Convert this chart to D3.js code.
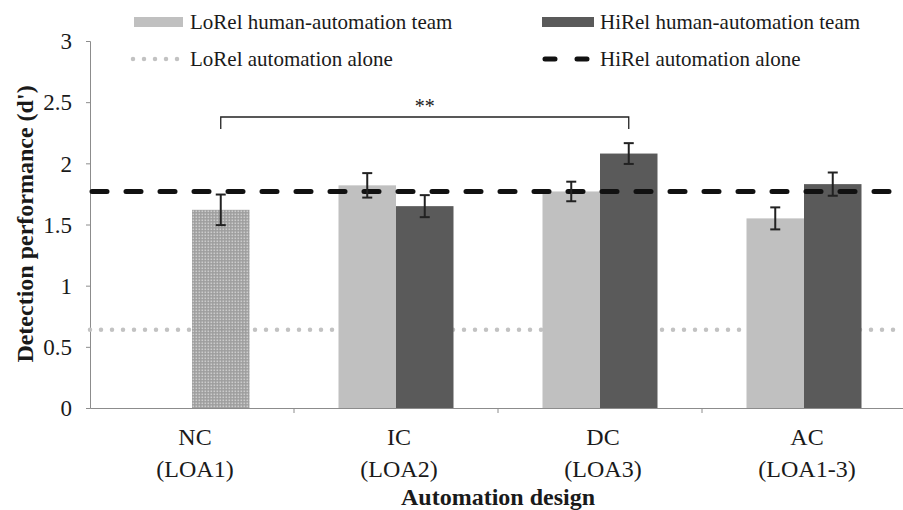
<!DOCTYPE html>
<html><head><meta charset="utf-8">
<script src="https://cdn.jsdelivr.net/npm/d3@7/dist/d3.min.js"></script>
<style>body{margin:0;background:#fff}svg{display:block}text{font-family:"Liberation Serif","Times New Roman",serif;fill:#1a1a1a}</style>
</head><body><svg id="c" width="903" height="510"></svg>
<script>
const categories = ["NC|(LOA1)", "IC|(LOA2)", "DC|(LOA3)", "AC|(LOA1-3)"];
const loRelTeam = [null, 1.82, 1.77, 1.55];
const loRelErr  = [null, 0.10, 0.08, 0.09];
const hiRelTeam = [1.62, 1.65, 2.08, 1.83];
const hiRelErr  = [0.125, 0.09, 0.085, 0.095];
const loRelAlone = 0.64;
const hiRelAlone = 1.77;
const yTicks = [0, 0.5, 1, 1.5, 2, 2.5, 3];
const yTickLabels = ["0", "0.5", "1", "1.5", "2", "2.5", "3"];
const legendLabels = ["LoRel human-automation team", "HiRel human-automation team", "LoRel automation alone", "HiRel automation alone"];
const sigLabel = "**";

(function(){
const svg = d3.select("#c");
const pL = 90, pR = 906, pT = 41, pB = 408;
const x = d3.scaleBand().domain(categories).range([pL, pR]);
const y = d3.scaleLinear().domain([0, 3]).range([pB, pT]);
const bw = 57.5;

const defs = svg.append("defs");
const pat = defs.append("pattern").attr("id", "dots").attr("patternUnits", "userSpaceOnUse").attr("width", 3).attr("height", 3);
pat.append("rect").attr("width", 3).attr("height", 3).attr("fill", "#969696");
pat.append("rect").attr("x", 0.5).attr("y", 0.5).attr("width", 1.6).attr("height", 1.6).attr("fill", "#c8c8c8");

// y axis
const yAxis = d3.axisLeft(y).tickValues(yTicks).tickFormat((d,i)=>yTickLabels[i]).tickSize(4).tickPadding(14);
const ga = svg.append("g").attr("transform", `translate(${pL},0)`).call(yAxis);
ga.select(".domain").attr("stroke", "#8c8c8c");
ga.selectAll(".tick line").attr("stroke", "#8c8c8c");
ga.selectAll(".tick text").attr("font-size", 23).attr("fill", "#1a1a1a").attr("font-family", "Liberation Serif").attr("dy", "0.34em");

// LoRel alone dotted line (behind bars)
svg.append("line").attr("x1", pL).attr("x2", 903).attr("y1", y(loRelAlone)).attr("y2", y(loRelAlone))
  .attr("stroke", "#c2c2c2").attr("stroke-width", 4.5).attr("stroke-linecap", "round").attr("stroke-dasharray", "0 11");

// bars
categories.forEach((c, i) => {
  const cx = x(c) + x.bandwidth() / 2;
  if (loRelTeam[i] != null) {
    svg.append("rect").attr("x", cx - bw).attr("y", y(loRelTeam[i])).attr("width", bw).attr("height", y(0) - y(loRelTeam[i])).attr("fill", "#c0c0c0");
  }
  svg.append("rect").attr("x", cx).attr("y", y(hiRelTeam[i])).attr("width", bw).attr("height", y(0) - y(hiRelTeam[i]))
    .attr("fill", i === 0 ? "url(#dots)" : "#5a5a5a").attr("opacity", i === 0 ? 0.92 : 1);
});

// x axis
const xAxis = d3.axisBottom(x).tickFormat("").tickSize(0);
const gx = svg.append("g").attr("transform", `translate(0,${pB})`).call(xAxis);
gx.select(".domain").attr("stroke", "#8c8c8c");
categories.slice(1).forEach(c => {
  svg.append("line").attr("x1", x(c)).attr("x2", x(c)).attr("y1", pB).attr("y2", pB + 5).attr("stroke", "#8c8c8c");
});
categories.forEach(c => {
  const cx = x(c) + x.bandwidth() / 2 + 3;
  const parts = c.split("|");
  svg.append("text").attr("x", cx).attr("y", 445).attr("text-anchor", "middle").attr("font-size", 24).text(parts[0]);
  svg.append("text").attr("x", cx).attr("y", 477).attr("text-anchor", "middle").attr("font-size", 24).text(parts[1]);
});

// HiRel alone dashed line
svg.append("line").attr("x1", pL + 2).attr("x2", 903).attr("y1", y(hiRelAlone)).attr("y2", y(hiRelAlone))
  .attr("stroke", "#111").attr("stroke-width", 5).attr("stroke-linecap", "round").attr("stroke-dasharray", "15 19");

// error bars
function errBar(cx, v, e) {
  const g = svg.append("g").attr("stroke", "#222").attr("stroke-width", 2);
  g.append("line").attr("x1", cx).attr("x2", cx).attr("y1", y(v + e)).attr("y2", y(v - e));
  g.append("line").attr("x1", cx - 5).attr("x2", cx + 5).attr("y1", y(v + e)).attr("y2", y(v + e));
  g.append("line").attr("x1", cx - 5).attr("x2", cx + 5).attr("y1", y(v - e)).attr("y2", y(v - e));
}
categories.forEach((c, i) => {
  const cx = x(c) + x.bandwidth() / 2;
  if (loRelTeam[i] != null) errBar(cx - bw / 2, loRelTeam[i], loRelErr[i]);
  errBar(cx + bw / 2, hiRelTeam[i], hiRelErr[i]);
});

// significance bracket NC vs DC HiRel
const sx1 = x(categories[0]) + x.bandwidth() / 2 + bw / 2, sx2 = x(categories[2]) + x.bandwidth() / 2 + bw / 2;
svg.append("path").attr("d", `M${sx1},129 V117 H${sx2} V129`).attr("fill", "none").attr("stroke", "#222").attr("stroke-width", 1.3);
svg.append("text").attr("x", (sx1 + sx2) / 2).attr("y", 113).attr("text-anchor", "middle").attr("font-size", 20).text(sigLabel);

// legend
const lg = svg.append("g");
lg.append("rect").attr("x", 134).attr("y", 17).attr("width", 49).attr("height", 10).attr("fill", "#c0c0c0");
lg.append("text").attr("x", 190).attr("y", 29).attr("font-size", 21).text(legendLabels[0]);
lg.append("rect").attr("x", 542).attr("y", 17).attr("width", 52).attr("height", 10).attr("fill", "#5a5a5a");
lg.append("text").attr("x", 600).attr("y", 29).attr("font-size", 21).text(legendLabels[1]);
lg.append("line").attr("x1", 133).attr("x2", 183).attr("y1", 59).attr("y2", 59).attr("stroke", "#c2c2c2").attr("stroke-width", 4.5).attr("stroke-linecap", "round").attr("stroke-dasharray", "0 11");
lg.append("text").attr("x", 190).attr("y", 66).attr("font-size", 21).text(legendLabels[2]);
lg.append("line").attr("x1", 545).attr("x2", 594).attr("y1", 59).attr("y2", 59).attr("stroke", "#111").attr("stroke-width", 5).attr("stroke-linecap", "round").attr("stroke-dasharray", "10 22");
lg.append("text").attr("x", 600).attr("y", 66).attr("font-size", 21).text(legendLabels[3]);

// axis titles
svg.append("text").attr("transform", `translate(33,224) rotate(-90)`).attr("text-anchor", "middle")
  .attr("font-size", 24).attr("font-weight", "bold").text("Detection performance (d')");
svg.append("text").attr("x", 498).attr("y", 505).attr("text-anchor", "middle").attr("font-size", 24).attr("font-weight", "bold").text("Automation design");
})();
</script></body></html>
